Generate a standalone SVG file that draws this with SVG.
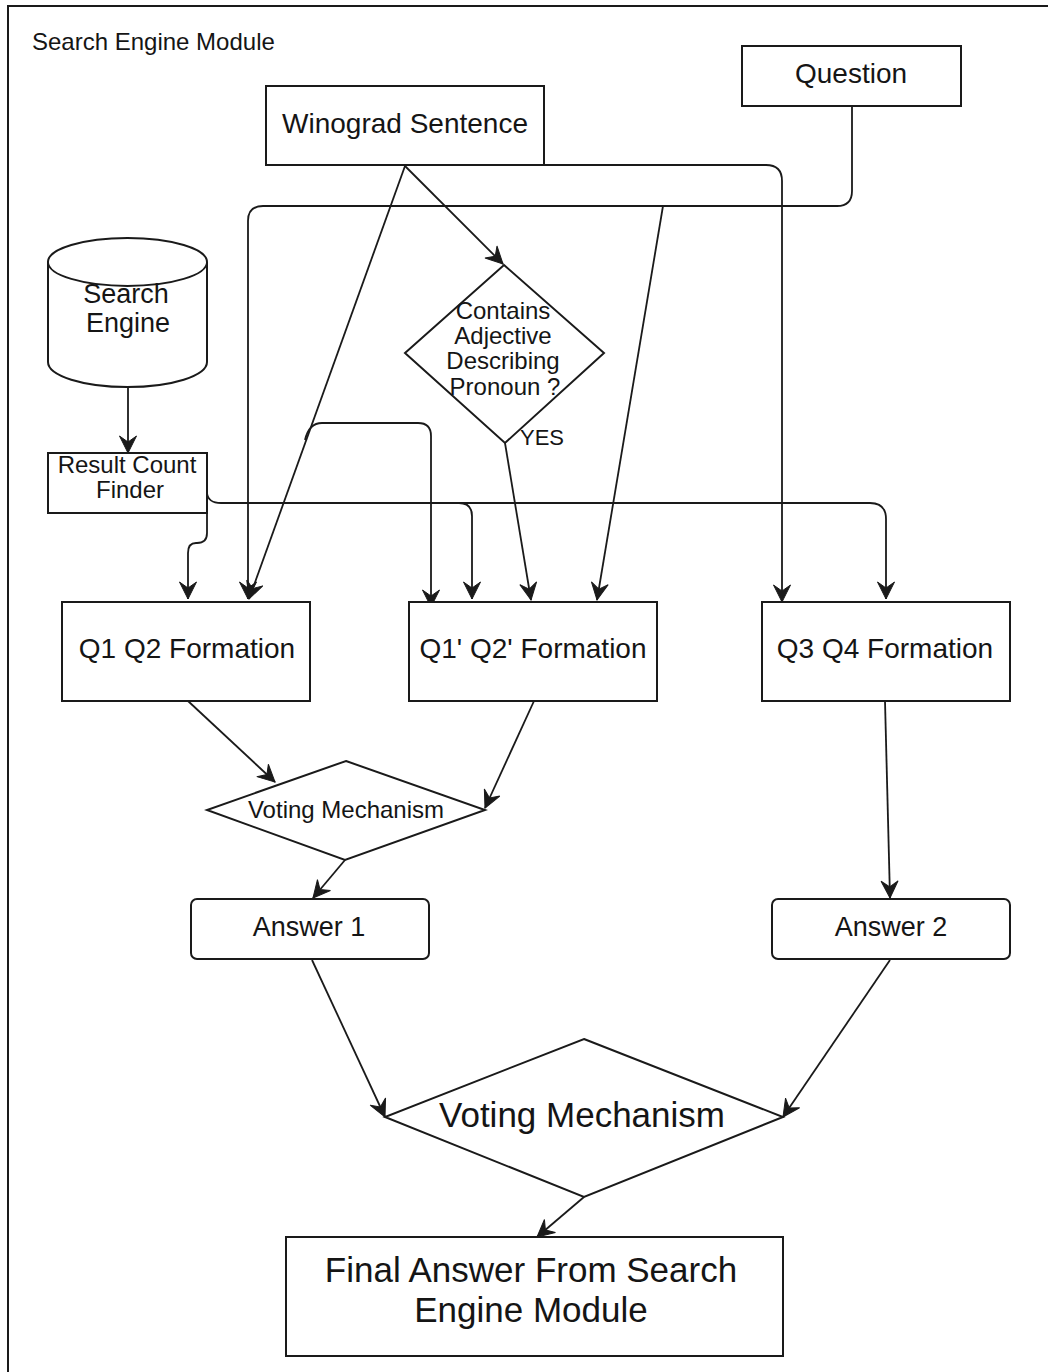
<svg xmlns="http://www.w3.org/2000/svg" width="1048" height="1372" viewBox="0 0 1048 1372">
  <style>
    .shape { fill: #ffffff; stroke: #1a1a1a; stroke-width: 2; }
    .edge { fill: none; stroke: #1a1a1a; stroke-width: 1.8; }
    .arrow { fill: none; stroke: #1a1a1a; stroke-width: 1.8; marker-end: url(#head); }
    text { font-family: "Liberation Sans", Arial, Helvetica, sans-serif; fill: #151515; text-anchor: middle; }
    .t28 { font-size: 28px; }
    .t27 { font-size: 27px; }
    .t24 { font-size: 24px; }
    .t35 { font-size: 35px; }
  </style>
  <defs>
    <marker id="head" viewBox="-19 -10 20 20" refX="0" refY="0" markerWidth="20" markerHeight="20" markerUnits="userSpaceOnUse" orient="auto">
      <path d="M0,0 L-17,-8.5 L-11,0 L-17,8.5 Z" fill="#1a1a1a" stroke="#1a1a1a" stroke-width="1" stroke-linejoin="miter"/>
    </marker>
  </defs>

  <rect width="1048" height="1372" fill="#ffffff"/>

  <!-- module frame -->
  <g id="module-frame">
    <rect x="8" y="6" width="1200" height="1500" fill="none" stroke="#1a1a1a" stroke-width="2"/>
    <text x="32" y="50" font-size="24" style="text-anchor:start">Search Engine Module</text>
  </g>

  <!-- connectors -->
  <g id="connectors">
    <!-- Question to Q1 Q2 Formation, with branch to Q1' Q2' Formation -->
    <path class="arrow" d="M852,106 V191 Q852,206 837,206 H263 Q248,206 248,221 V599"/>
    <path class="arrow" d="M663,206 L597,600"/>
    <!-- Winograd Sentence to Q3 Q4 Formation -->
    <path class="arrow" d="M544,165 H766 Q782,165 782,181 V602"/>
    <!-- Winograd Sentence to Q1 Q2 Formation -->
    <path class="arrow" d="M405,166 L249,599"/>
    <!-- Winograd Sentence to decision -->
    <path class="arrow" d="M405,166 L503,264"/>
    <!-- branch off the diagonal to Q1' Q2' Formation -->
    <path class="arrow" d="M305,440 Q309,423 322,423 H418 Q431,423 431,436 V607"/>
    <!-- YES branch -->
    <path class="arrow" d="M505,443 L531,600"/>
    <!-- Search Engine to Result Count Finder -->
    <path class="arrow" d="M128,387 V453"/>
    <!-- Result Count Finder fan-out -->
    <path class="arrow" d="M207,513 V533 Q207,543 197,543 H196 Q188,543 188,553 V599"/>
    <path class="arrow" d="M207,493 Q208,503 221,503 H870 Q886,503 886,519 V599"/>
    <path class="arrow" d="M459,503 Q472,503 472,516 V599"/>
    <!-- formations to voting -->
    <path class="arrow" d="M188,701 L275,782"/>
    <path class="arrow" d="M534,701 L485,808"/>
    <path class="arrow" d="M345,860 L313,898"/>
    <path class="arrow" d="M885,701 L890,898"/>
    <!-- answers to final vote -->
    <path class="arrow" d="M312,960 L385,1117"/>
    <path class="arrow" d="M890,960 L783,1117"/>
    <path class="arrow" d="M584,1197 L537,1237"/>
  </g>

  <!-- nodes -->
  <g id="winograd-sentence">
    <rect class="shape" x="266" y="86" width="278" height="79"/>
    <text class="t28" x="405" y="133">Winograd Sentence</text>
  </g>

  <g id="question">
    <rect class="shape" x="742" y="46" width="219" height="60"/>
    <text class="t28" x="851" y="83">Question</text>
  </g>

  <g id="search-engine">
    <path class="shape" d="M48,262 A79.5,24 0 0 1 207,262 V362 A79.5,25 0 0 1 48,362 Z"/>
    <path class="edge" d="M48,262 A79.5,24 0 0 0 207,262" stroke-width="2"/>
    <text class="t27" x="126" y="303">Search</text>
    <text class="t27" x="128" y="332">Engine</text>
  </g>

  <g id="result-count-finder">
    <rect class="shape" x="48" y="453" width="159" height="60"/>
    <text class="t24" x="127" y="473">Result Count</text>
    <text class="t24" x="130" y="498">Finder</text>
  </g>

  <g id="adjective-check">
    <polygon class="shape" points="504,265 604,353 505,443 405,353"/>
    <text class="t24" x="503" y="319">Contains</text>
    <text class="t24" x="503" y="344">Adjective</text>
    <text class="t24" x="503" y="369">Describing</text>
    <text class="t24" x="505" y="395">Pronoun ?</text>
    <text x="520" y="445" font-size="22" style="text-anchor:start">YES</text>
  </g>

  <g id="q1-q2-formation">
    <rect class="shape" x="62" y="602" width="248" height="99"/>
    <text class="t28" x="187" y="658">Q1 Q2 Formation</text>
  </g>

  <g id="q1p-q2p-formation">
    <rect class="shape" x="409" y="602" width="248" height="99"/>
    <text class="t28" x="533" y="658">Q1' Q2' Formation</text>
  </g>

  <g id="q3-q4-formation">
    <rect class="shape" x="762" y="602" width="248" height="99"/>
    <text class="t28" x="885" y="658">Q3 Q4 Formation</text>
  </g>

  <g id="voting-1">
    <polygon class="shape" points="346,761 485,810 345,860 207,810"/>
    <text class="t24" x="346" y="818">Voting Mechanism</text>
  </g>

  <g id="answer-1">
    <rect class="shape" x="191" y="899" width="238" height="60" rx="6"/>
    <text class="t27" x="309" y="936">Answer 1</text>
  </g>

  <g id="answer-2">
    <rect class="shape" x="772" y="899" width="238" height="60" rx="6"/>
    <text class="t27" x="891" y="936">Answer 2</text>
  </g>

  <g id="voting-final">
    <polygon class="shape" points="584,1039 783,1117 584,1197 385,1117"/>
    <text class="t35" x="582" y="1127">Voting Mechanism</text>
  </g>

  <g id="final-answer">
    <rect class="shape" x="286" y="1237" width="497" height="119"/>
    <text class="t35" x="531" y="1282">Final Answer From Search</text>
    <text class="t35" x="531" y="1322">Engine Module</text>
  </g>
</svg>
